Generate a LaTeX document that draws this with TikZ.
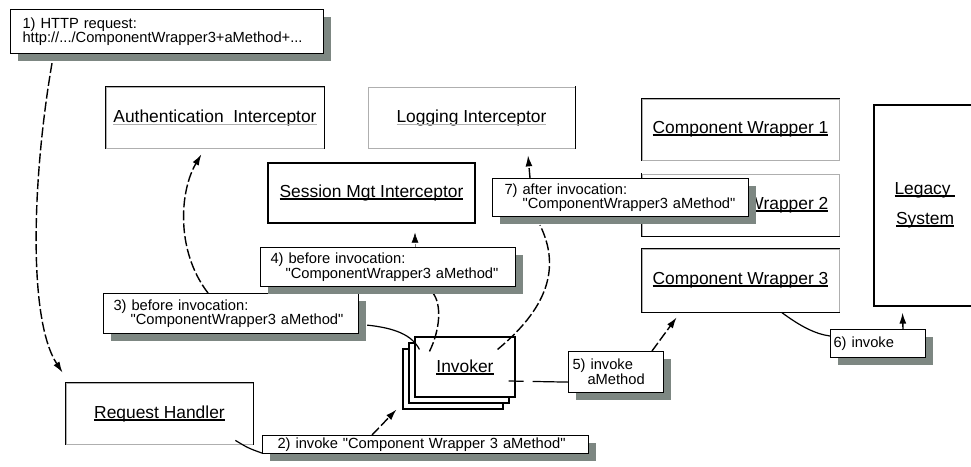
\documentclass[tikz,border=0pt]{standalone}
\usepackage{fontspec}
\setmainfont{Liberation Sans}
\usetikzlibrary{arrows.meta,calc,shadows}

\definecolor{shadowgray}{RGB}{125,135,130}
\definecolor{litegray}{RGB}{175,175,175}

\pgfdeclarelayer{boxes}
\pgfdeclarelayer{lines}
\pgfsetlayers{boxes,lines,main}

\newcommand{\ulbold}[1]{\leavevmode\setbox0\hbox{#1}\copy0\llap{\rule[-2.5pt]{\wd0}{1.8pt}}}
\newcommand{\ullite}[1]{\leavevmode\setbox0\hbox{#1}\copy0\llap{\textcolor{litegray}{\rule[-3pt]{\wd0}{0.7pt}}}}
\newcommand{\qt}{\textquotedbl}

\tikzset{
  boxfont/.style={font=\fontsize{17.4}{30}\selectfont},
  compbox/.style={draw, line width=1.3pt, fill=white, inner sep=0pt, align=center, boxfont},
  litebox/.style={draw=litegray, line width=0.8pt, fill=white, inner sep=0pt, align=center, boxfont},
  stackbox/.style={draw, line width=1.1pt, fill=white, inner sep=0pt, minimum width=100pt, minimum height=60pt, boxfont},
  edge/.style={line width=1.3pt, line cap=rect},
  note/.style={draw, line width=1.1pt, fill=white, anchor=north west, inner ysep=0pt, inner xsep=10pt,
    align=left, font=\fontsize{14.7}{13}\selectfont,
    drop shadow={shadow xshift=7pt, shadow yshift=-7pt, fill=shadowgray, opacity=1}},
  flow/.style={line width=1.4pt, dash pattern={on 10pt off 3pt}, -{Latex[length=11pt,width=7pt]}},
  thinflow/.style={line width=0.6pt, draw=gray, dash pattern={on 3pt off 2pt}, -{Latex[length=10pt,width=7pt,black]}},
  link/.style={line width=1.2pt},
}

\begin{document}
\begin{tikzpicture}[x=1pt,y=1pt,yscale=-1,xscale=1]
        \clip (0,0) rectangle (971,466);

        \begin{pgfonlayer}{boxes}
        % Interceptors
        \node[litebox, minimum width=218pt, minimum height=61pt] (auth) at (215,117.5) {\ullite{Authentication\ \ Interceptor}};
        \draw[edge] (auth.south west) -- (auth.north west) -- (auth.north east) -- (auth.south east);
        \node[litebox, minimum width=207pt, minimum height=61pt] (logging) at (471.5,117.5) {\ullite{Logging Interceptor}};
        \draw[edge] (logging.north east) -- (logging.south east);
        \node[compbox, minimum width=207pt, minimum height=60pt] (session) at (371.5,193) {\ulbold{Session Mgt Interceptor}};

        % Component wrappers
        \node[litebox, minimum width=197pt, minimum height=61pt] (cwone) at (740.5,129.5) {\ulbold{Component Wrapper 1}};
        \draw[edge] (cwone.south west) -- (cwone.north west) -- (cwone.north east);
        \node[litebox, minimum width=197pt, minimum height=62pt] (cwtwo) at (740.5,205) {\ulbold{Component Wrapper 2}};
        \draw[edge] (cwtwo.north west) -- (cwtwo.south west) -- (cwtwo.south east);
        \node[litebox, minimum width=197pt, minimum height=63pt] (cwthree) at (740.5,280.5) {\ulbold{Component Wrapper 3}};
        \draw[edge] (cwthree.north east) -- (cwthree.north west) -- (cwthree.south west) -- (cwthree.south east);
        \node[compbox, minimum width=102pt, minimum height=201pt] (legacy) at (925,205.5) {\ulbold{Legacy\ }\\\ulbold{System}};

        % Request handler and invoker stack
        \node[litebox, minimum width=187pt, minimum height=61pt] (handler) at (159.5,413.5) {\ulbold{Request Handler}};
        \draw[edge] (handler.south west) -- (handler.north west) -- (handler.north east) -- (handler.south east);
        \node[stackbox] (invokerc) at (453,379) {};
        \node[stackbox] (invokerb) at (459,373) {};
        \node[stackbox] (invoker) at (465,367) {\ulbold{Invoker}};
        \end{pgfonlayer}

        % Text Node
        \node[note, text width=289pt, minimum height=44pt, inner xsep=12pt] (httpreq) at (10,9) {1) HTTP request:\\http://.../ComponentWrapper3+aMethod+...};
        % Text Node
        \node[note, text width=296pt, minimum height=18pt, inner xsep=15pt] (invokenote) at (262,435) {2) invoke \qt Component Wrapper 3 aMethod\qt};
        % Text Node
        \node[note, text width=235pt, minimum height=40pt] (beforeauth) at (103,293) {3) before invocation:\\\hspace*{17pt}\qt ComponentWrapper3 aMethod\qt};
        % Text Node
        \node[note, text width=235pt, minimum height=39pt] (beforesession) at (260,247) {4) before invocation:\\\hspace*{15pt}\qt ComponentWrapper3 aMethod\qt};
        % Text Node
        \node[note, text width=87pt, minimum height=41pt, inner xsep=4pt] (invokemeth) at (568,351) {5) invoke\\\hspace*{15pt}aMethod};
        % Text Node
        \node[note, text width=89pt, minimum height=28pt, inner xsep=3pt] (invokelegacy) at (830,329) {6) invoke};
        % Text Node
        \node[note, text width=232pt, minimum height=38pt, inner xsep=12pt] (afterlog) at (492,178) {7) after invocation:\\\hspace*{18pt}\qt ComponentWrapper3 aMethod\qt};

        \begin{pgfonlayer}{lines}
        % Connectors
        \draw[flow] ($(httpreq.south west)+(42,9)$) .. controls (32,180) and (28,320) .. ($(handler.north west)+(-3,-10)$);
        \draw[link] ($(handler.south east)+(-18,-4)$) .. controls (248,448) .. ($(invokenote.south west)+(0,-1)$);
        \draw[flow] ($(invokenote.north west)+(110,0)$) -- ($(invokerc.south west)+(-6,0)$);
        \draw[flow, shorten >=7pt] ($(beforeauth.north west)+(105,0)$) .. controls (175,250) and (180,190) .. ($(auth.south)+(-10,0)$);
        \draw[link] ($(beforeauth.south east)+(8,-9)$) .. controls (395,328) and (412,335) .. ($(invoker.north west)+(5,13)$);
        \draw[flow, -] ($(invoker.north west)+(15,15)$) .. controls (440,330) and (442,305) .. ($(beforesession.south west)+(173,6)$);
        \draw[thinflow, shorten >=9pt] ($(beforesession.north west)+(155,0)$) -- ($(session.south)+(43.5,0)$);
        \draw[link, dash pattern={on 15pt off 9pt on 50pt off 1pt}] ($(invoker.east)+(-7,14)$) -- ($(invokemeth.south west)+(0,-11)$);
        \draw[flow] ($(invokemeth.north west)+(84,0)$) -- ($(cwthree.south west)+(35,5)$);
        \draw[link] ($(cwthree.south west)+(140,0)$) .. controls (800,326) and (815,334) .. ($(invokelegacy.north west)+(0,7)$);
        \draw[flow, shorten >=6pt] ($(invokelegacy.north west)+(73,0)$) -- ($(legacy.south west)+(29,0)$);
        \draw[flow, -] ($(invoker.north east)+(-18,13)$) .. controls (545,310) and (562,270) .. ($(afterlog.south west)+(48,8)$);
        \draw[flow, shorten >=7pt] ($(afterlog.north west)+(38,0)$) -- ($(logging.south east)+(-48,0)$);
        \end{pgfonlayer}
\end{tikzpicture}
\end{document}
